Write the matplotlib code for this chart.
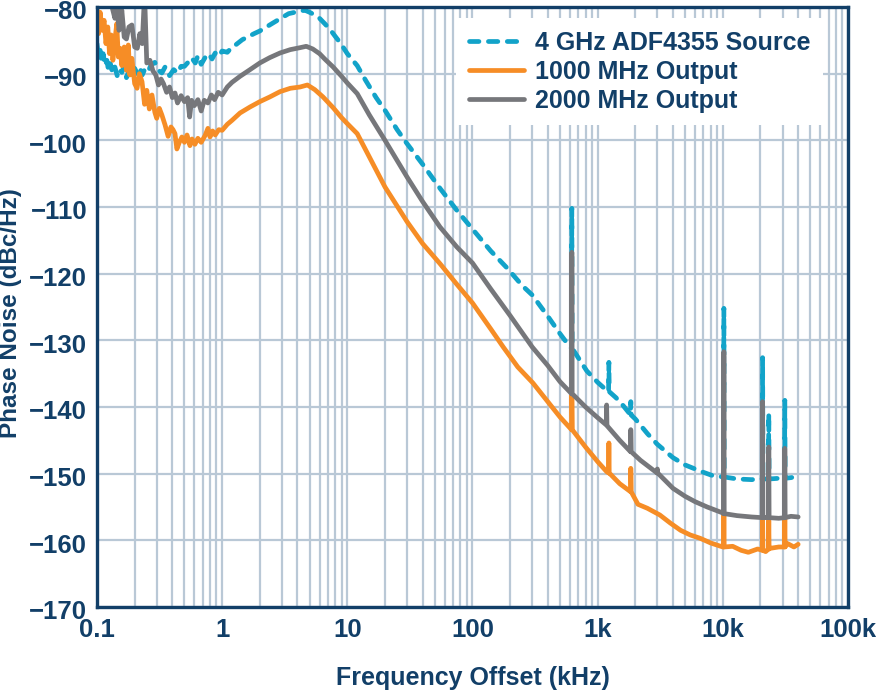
import matplotlib
matplotlib.use("Agg")
import matplotlib.pyplot as plt
import matplotlib.transforms as mtransforms
from matplotlib.ticker import LogLocator, NullFormatter, FixedLocator

# ---------------- data (frequency offset in kHz, phase noise in dBc/Hz) -------------
src_freq = [0.1, 0.103, 0.106, 0.109, 0.112, 0.116, 0.12, 0.124, 0.128, 0.133, 0.139,
            0.145, 0.15, 0.158, 0.165, 0.172, 0.18, 0.19, 0.2, 0.21, 0.22, 0.23, 0.24,
            0.255, 0.27, 0.29, 0.31, 0.33, 0.35, 0.38, 0.41, 0.44, 0.47, 0.5, 0.54, 0.57,
            0.61, 0.64, 0.68, 0.73, 0.78, 0.83, 0.88, 0.94, 1.0, 1.1, 1.2, 1.3, 1.45, 1.6,
            1.8, 2.0, 2.3, 2.6, 3.0, 3.4, 3.8, 4.2, 4.6, 5.0, 5.5, 6.0, 6.6, 7.3, 8.0, 8.8,
            10, 12, 14, 17, 20, 25, 30, 40, 55, 75, 100, 140, 190, 250, 300, 400, 500, 600,
            700, 820, 1000, 1100, 1200, 1400, 1600, 1800, 2000, 2500, 3000, 4000, 5000,
            6000, 7000, 8300, 10000, 13000, 17000, 22000, 28000, 35000, 40000]
src_pn = [-85.5, -87.5, -86.5, -88.3, -87.0, -88.8, -88.0, -89.7, -88.5, -89.9, -89.0,
          -90.3, -89.3, -89.8, -88.9, -90.6, -89.6, -90.4, -89.2, -90.0, -89.1, -90.2, -89.4,
          -89.8, -88.7, -88.3, -89.5, -89.9, -89.0, -90.3, -89.4, -89.9, -88.9, -88.9, -88.2, -87.6,
          -88.4, -87.3, -88.6, -87.6, -87.0, -87.8, -86.9, -87.4, -86.6, -86.8, -86.0, -85.6, -84.9, -84.5,
          -84.0, -83.6, -82.9, -82.3, -81.6, -81.0, -80.8, -80.6, -80.5, -80.8, -81.2, -81.7, -82.5, -83.4, -84.4, -85.4,
          -87.0, -88.8, -91.0, -93.6, -95.5, -98.4, -100.5, -103.6, -107.2, -110.5, -113.3, -116.6, -119.2, -121.8, -123.2, -126.4, -129.0, -131.0,
          -132.6, -134.6, -136.3, -137.0, -137.6, -138.6, -139.8, -141.0, -141.8, -144.0, -145.6, -147.6, -148.7,
          -149.3, -149.8, -150.3, -150.5, -150.8, -150.9, -150.8, -150.7, -150.6, -150.4]
# spurs: (frequency, floor level, peak level)
src_spur_freq = [622, 1230, 1840, 10200, 20800, 23300, 31300]
src_spur_base = [-131.2, -137.7, -141.2, -150.5, -150.8, -150.8, -150.7]
src_spur_peak = [-110.2, -133.3, -139.2, -125.2, -132.6, -141.0, -139.0]

out1_freq = [0.1, 0.103, 0.106, 0.11, 0.114, 0.118, 0.122, 0.126, 0.13, 0.134, 0.139,
             0.144, 0.148, 0.153, 0.158, 0.165, 0.172, 0.178, 0.183, 0.19, 0.2, 0.209,
             0.218, 0.229, 0.24, 0.25, 0.262, 0.275, 0.29, 0.3, 0.315, 0.33, 0.35, 0.37,
             0.39, 0.405, 0.42, 0.435, 0.455, 0.477, 0.5, 0.524, 0.553, 0.575, 0.606, 0.64,
             0.68, 0.73, 0.77, 0.8, 0.84, 0.88, 0.94, 1.0, 1.1, 1.2, 1.39, 1.67, 2.0, 2.4,
             2.9, 3.5, 4.2, 4.8, 5.5, 6.4, 7.7, 9.0, 10, 12, 15, 20, 30, 40, 55, 75, 100,
             140, 176, 230, 304, 400, 500, 622, 800, 1000, 1180, 1500, 1840, 2100, 2500,
             3140, 3800, 4600, 5500, 6600, 8000, 10000, 12000, 14000, 16000, 19000, 22000,
             24000, 28000, 33000, 37000, 40000]
out1_pn = [-80.0, -84.0, -80.8, -83.5, -82.0, -85.5, -83.0, -87.0, -84.2, -88.0, -85.0,
           -82.5, -87.5, -86.2, -88.8, -86.0, -89.5, -85.7, -90.2, -87.7, -91.5, -92.2,
           -90.0, -91.2, -94.6, -92.5, -95.3, -93.2, -95.8, -96.7, -95.2, -96.2, -97.7, -99.4,
           -98.0, -98.4, -99.0, -101.3, -100.3, -99.5, -100.3, -99.2, -100.8, -99.8, -100.6, -99.7,
           -100.3, -99.3, -98.2, -99.5, -98.6, -99.2, -98.4, -98.5, -97.6, -97.0, -95.9, -95.0, -94.2, -93.5,
           -92.7, -92.2, -92.0, -91.7, -92.4, -93.5, -95.1, -96.6, -97.5, -99.0, -102.5, -107.0, -112.2, -115.5, -118.5, -121.6, -124.4,
           -128.3, -131.0, -134.0, -136.4, -139.2, -141.5, -143.4, -146.0, -148.2, -149.7, -151.5, -152.7, -154.6, -155.2,
           -156.2, -157.4, -158.5, -159.2, -159.7, -160.4, -161.0, -160.9, -161.5, -161.8, -161.3, -161.7,
           -161.2, -161.0, -160.5, -161.0, -160.6]
out1_spur_freq = [622, 1230, 1840, 10200, 20800, 23300, 31300]
out1_spur_base = [-143.4, -149.9, -152.7, -161.0, -161.5, -161.3, -161.0]
out1_spur_peak = [-138.2, -145.4, -149.2, -156.2, -156.8, -157.0, -156.8]

out2_freq = [0.1, 0.11, 0.12, 0.13, 0.134, 0.139, 0.145, 0.15, 0.158, 0.165, 0.172, 0.18,
             0.19, 0.2, 0.21, 0.22, 0.23, 0.24, 0.25, 0.265, 0.28, 0.295, 0.31, 0.325, 0.34,
             0.36, 0.38, 0.4, 0.42, 0.44, 0.47, 0.5, 0.53, 0.55, 0.57, 0.6, 0.64, 0.68, 0.72,
             0.77, 0.82, 0.87, 0.93, 1.0, 1.1, 1.2, 1.39, 1.67, 2.0, 2.4, 2.9, 3.5, 4.2, 4.7,
             5.3, 6.0, 6.6, 7.7, 9.0, 10, 12, 15, 20, 30, 40, 55, 75, 100, 140, 200, 300, 400,
             500, 620, 800, 1000, 1200, 1500, 1840, 2200, 3000, 4000, 5000, 6000, 7500, 10000,
             13000, 17000, 22000, 28000, 35000, 40000]
out2_pn = [-76.0, -77.0, -78.0, -79.5, -80.5, -81.7, -80.2, -83.5, -80.5, -84.5, -84.8, -83.0,
           -82.7, -86.0, -86.2, -84.0, -85.5, -78.0, -88.4, -88.0, -89.6, -90.2, -91.7, -90.8, -91.5,
           -92.8, -92.0, -93.6, -92.9, -94.4, -93.3, -94.2, -93.6, -96.5, -94.0, -94.8, -93.9, -95.6, -94.0,
           -94.4, -93.2, -93.9, -92.8, -93.2, -92.0, -91.3, -90.4, -89.4, -88.4, -87.6, -86.9, -86.4, -86.1, -85.9,
           -86.3, -87.0, -87.8, -89.0, -90.4, -91.4, -93.0, -96.2, -100.0, -105.5, -109.2, -113.0, -116.0, -118.4, -122.3, -126.3, -131.0, -133.8,
           -136.2, -138.0, -140.0, -141.6, -142.9, -145.0, -146.7, -148.0, -149.9, -152.2, -153.4, -154.2, -155.0, -155.9,
           -156.3, -156.5, -156.6, -156.7, -156.4, -156.5]
out2_spur_freq = [622, 1180, 1840, 3000, 10200, 20800, 23300, 31300]
out2_spur_base = [-138.0, -142.7, -146.7, -149.9, -156.0, -156.6, -156.6, -156.6]
out2_spur_peak = [-116.8, -139.7, -143.4, -149.3, -131.7, -139.2, -146.0, -146.2]

series_labels = ["4 GHz ADF4355 Source", "1000 MHz Output", "2000 MHz Output"]
x_ticks = [0.1, 1, 10, 100, 1000, 10000, 100000]
x_tick_labels = ["0.1", "1", "10", "100", "1k", "10k", "100k"]
y_ticks = [-170, -160, -150, -140, -130, -120, -110, -100, -90, -80]

# ---------------- styling ----------------
NAVY = "#123f68"
GRID = "#b9c8d6"
C_SRC = "#12a3c9"
C_1G = "#f68d26"
C_2G = "#76777b"

plt.rcParams["font.family"] = ["Liberation Sans", "DejaVu Sans"]
plt.rcParams["font.weight"] = "bold"


def merge_spurs(freq, pn, sf, sb, sp):
    pts = list(zip(freq, pn))
    for f, b, p in zip(sf, sb, sp):
        pts += [(f * 0.994, b), (f, p), (f * 1.006, b)]
    pts.sort(key=lambda t: t[0])
    return [t[0] for t in pts], [t[1] for t in pts]


fig = plt.figure(figsize=(8.76, 6.91), dpi=100)
ax = fig.add_axes([0.1107, 0.1216, 0.8573, 0.8683])

ax.set_xscale("log")
ax.set_xlim(0.1, 1e5)
ax.set_ylim(-170, -80)

fs, ps = merge_spurs(src_freq, src_pn, src_spur_freq, src_spur_base, src_spur_peak)
f1, p1 = merge_spurs(out1_freq, out1_pn, out1_spur_freq, out1_spur_base, out1_spur_peak)
f2, p2 = merge_spurs(out2_freq, out2_pn, out2_spur_freq, out2_spur_base, out2_spur_peak)

LW = 3.4
l_src, = ax.plot(fs, ps, color=C_SRC, lw=LW, dashes=(2.0, 2.0),
                 dash_capstyle="round", solid_joinstyle="round", label=series_labels[0], zorder=3)
l_1g, = ax.plot(f1, p1, color=C_1G, lw=LW, solid_joinstyle="round",
                solid_capstyle="round", label=series_labels[1], zorder=3)
l_2g, = ax.plot(f2, p2, color=C_2G, lw=LW, solid_joinstyle="round",
                solid_capstyle="round", label=series_labels[2], zorder=4)

ax.xaxis.set_major_locator(FixedLocator(x_ticks))
ax.set_xticklabels(x_tick_labels)
ax.xaxis.set_minor_locator(LogLocator(base=10, subs=range(2, 10), numticks=100))
ax.xaxis.set_minor_formatter(NullFormatter())
ax.set_yticks(y_ticks)
ax.set_yticklabels([f"\u2212{abs(v)}" for v in y_ticks])

ax.grid(which="both", axis="x", color=GRID, lw=1.6)
ax.grid(which="major", axis="y", color=GRID, lw=1.6)
ax.set_axisbelow(True)

ax.tick_params(which="both", length=0, labelsize=18.5, labelcolor=NAVY)
ax.tick_params(axis="x", pad=8)
ax.tick_params(axis="y", pad=7)
shift = mtransforms.ScaledTranslation(0, -2.0 / 72, fig.dpi_scale_trans)
for lbl in ax.get_yticklabels():
    lbl.set_transform(lbl.get_transform() + shift)
for s in ax.spines.values():
    s.set_color(NAVY)
    s.set_linewidth(2.4)
    s.set_zorder(5)

ax.set_xlabel("Frequency Offset (kHz)", fontsize=18, color=NAVY, fontweight="bold", labelpad=17)
fig.text(11 / 876, 1 - 313 / 691, "Phase Noise (dBc/Hz)", rotation=90, ha="center", va="center",
         fontsize=17.5, color=NAVY, fontweight="bold")

leg = ax.legend(handles=[l_src, l_1g, l_2g], loc="upper right", bbox_to_anchor=(0.967, 0.981),
                frameon=True, fancybox=False, framealpha=1.0, edgecolor="none",
                facecolor="white", fontsize=18, handlelength=2.2, handletextpad=0.45,
                labelspacing=0.2, borderpad=0.5, borderaxespad=0.0)
for t in leg.get_texts():
    t.set_color(NAVY)
    t.set_fontweight("bold")
leg.set_zorder(6)

fig.savefig("out.png", dpi=100)
